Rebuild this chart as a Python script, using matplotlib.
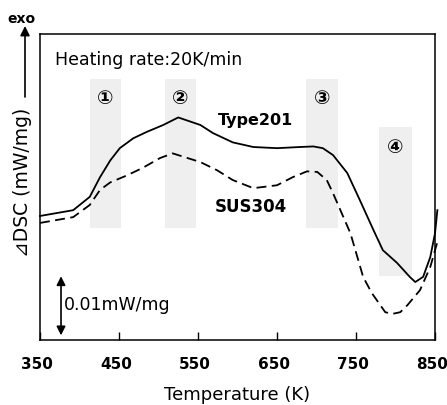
import matplotlib
matplotlib.use('Agg')
import matplotlib.pyplot as plt
from matplotlib.transforms import ScaledTranslation

# DSC curves (T in K, signal in units of 0.001 mW/mg)
t_type201 = [350, 392, 413, 426, 439, 451, 468, 485, 506, 525, 553, 569, 594, 620,
             650, 679, 696, 708, 721, 739, 755, 772, 784, 802, 818, 825, 835, 844,
             850, 853]
dsc_type201 = [21.4, 22.4, 24.7, 28.1, 31.0, 33.1, 34.8, 35.9, 37.1, 38.4, 37.1,
               35.7, 34.1, 33.3, 33.1, 33.3, 33.4, 33.1, 31.9, 28.8, 24.1, 19.0,
               15.5, 13.3, 10.9, 10.0, 10.9, 14.3, 18.4, 22.4]

t_sus304 = [350, 392, 413, 426, 439, 460, 480, 502, 518, 553, 574, 594, 620, 650,
            670, 688, 701, 713, 721, 743, 759, 770, 787, 796, 806, 815, 831, 844, 853]
dsc_sus304 = [20.2, 21.2, 23.3, 25.9, 27.2, 28.4, 29.7, 31.4, 32.2, 30.7, 29.3,
              27.6, 26.2, 26.7, 28.1, 29.1, 29.0, 27.6, 25.3, 18.4, 10.9, 8.1, 4.8,
              4.5, 4.8, 6.0, 8.6, 12.6, 16.9]

# shaded stages: label, T start, T end, bottom, top
stages = ['①', '②', '③', '④']
stage_t0 = [413, 508, 687, 779]
stage_t1 = [452, 547, 727, 821]
stage_lo = [19.3, 19.3, 19.3, 11.0]
stage_hi = [45.0, 45.0, 45.0, 36.7]

xticks = [350, 450, 550, 650, 750, 850]

FONT = ['DejaVu Sans', 'Noto Sans CJK JP']
plt.rcParams['font.family'] = FONT

fig = plt.figure(figsize=(4.47, 4.05), dpi=100)
ax = fig.add_axes([40 / 447, 65 / 405, 395 / 447, 306 / 405])

for lab, a, b, lo, hi in zip(stages, stage_t0, stage_t1, stage_lo, stage_hi):
    ax.fill_between([a, b], lo, hi, color='#efefef', lw=0, zorder=0)
    ax.text((a + b) / 2, hi - 3.4, lab, ha='center', va='center', fontsize=14,
            fontweight='bold')

ax.plot(t_type201, dsc_type201, color='black', lw=1.3, clip_on=False)
ax.plot(t_sus304, dsc_sus304, color='black', lw=1.3, dashes=(5.5, 3), clip_on=False)

ax.set_xlim(350, 850)
ax.set_ylim(0, 52.8)
ax.set_xticks(xticks)
ax.set_xticklabels([str(v) for v in xticks], fontweight='bold', fontsize=11)
ax.set_yticks([])
ax.tick_params(axis='x', direction='in', length=6, width=1, pad=12)
shift = ScaledTranslation(-3 / 100, 0, fig.dpi_scale_trans)
for lbl in ax.get_xticklabels():
    lbl.set_transform(lbl.get_transform() + shift)
for s in ax.spines.values():
    s.set_linewidth(1.1)
ax.set_xlabel('Temperature (K)', fontsize=13, labelpad=10)

ax.text(369, 48.3, 'Heating rate:20K/min', fontsize=12.5, va='center')
ax.text(575, 37.9, 'Type201', fontsize=11.5, va='center', fontweight='bold')
ax.text(571, 22.9, 'SUS304', fontsize=12, va='center', fontweight='bold')

# 0.01 mW/mg scale bar
ax.annotate('', xy=(376.6, 11.0), xytext=(376.6, 0.8),
            arrowprops=dict(arrowstyle='<|-|>', color='black', lw=1.2,
                            mutation_scale=13, shrinkA=0, shrinkB=0))
ax.text(380, 6.0, '0.01mW/mg', fontsize=12.5, va='center')

# exo arrow and y label outside the axes
ax.annotate('', xy=(25, 405 - 26), xytext=(25, 405 - 97), xycoords='figure pixels',
            textcoords='figure pixels',
            arrowprops=dict(arrowstyle='-|>', color='black', lw=1.2,
                            mutation_scale=14, shrinkA=0, shrinkB=0))
fig.text(21 / 447, 1 - 19 / 405, 'exo', fontsize=10, ha='center', va='center',
         fontweight='bold')
fig.text(23 / 447, 1 - 182 / 405, '⊿DSC (mW/mg)', fontsize=13.5, rotation=90,
         ha='center', va='center')

fig.savefig('out.png', dpi=100)
